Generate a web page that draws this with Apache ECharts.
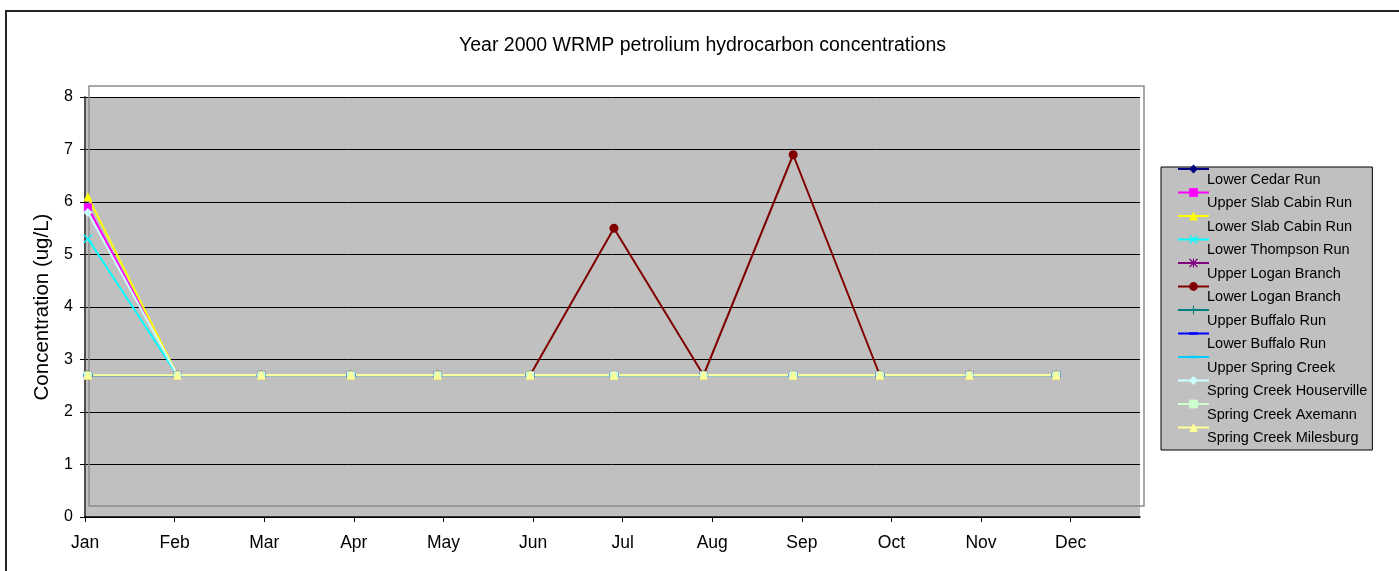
<!DOCTYPE html>
<html>
<head>
<meta charset="utf-8">
<script src="https://cdn.jsdelivr.net/npm/echarts@6/dist/echarts.min.js"></script>
<style>
  html, body { margin: 0; padding: 0; background: #ffffff; }
  #chart { width: 1399px; height: 571px; }
</style>
</head>
<body>
<div id="chart"></div>
<script>
// Month tick labels along the date axis and the concentration ticks
const monthLabels = ['Jan', 'Feb', 'Mar', 'Apr', 'May', 'Jun', 'Jul', 'Aug', 'Sep', 'Oct', 'Nov', 'Dec'];
const concentrationTicks = [0, 1, 2, 3, 4, 5, 6, 7, 8];

// Monthly sampling dates (year 2000)
const sampleDates = ['2000-01-02', '2000-02-02', '2000-03-02', '2000-04-02', '2000-05-02', '2000-06-03',
                     '2000-07-02', '2000-08-02', '2000-09-02', '2000-10-02', '2000-11-02', '2000-12-02'];

// Sites, in legend order
const siteNames = ['Lower Cedar Run', 'Upper Slab Cabin Run', 'Lower Slab Cabin Run', 'Lower Thompson Run',
                   'Upper Logan Branch', 'Lower Logan Branch', 'Upper Buffalo Run', 'Lower Buffalo Run',
                   'Upper Spring Creek', 'Spring Creek Houserville', 'Spring Creek Axemann', 'Spring Creek Milesburg'];

// Petroleum hydrocarbon concentrations (ug/L), one value per sampling date
const lowerCedarRun          = [2.7, 2.7, 2.7, 2.7, 2.7, 2.7, 2.7, 2.7, 2.7, 2.7, 2.7, 2.7];
const upperSlabCabinRun      = [5.9, 2.7, 2.7, 2.7, 2.7, 2.7, 2.7, 2.7, 2.7, 2.7, 2.7, 2.7];
const lowerSlabCabinRun      = [6.1, 2.7, 2.7, 2.7, 2.7, 2.7, 2.7, 2.7, 2.7, 2.7, 2.7, 2.7];
const lowerThompsonRun       = [5.3, 2.7, 2.7, 2.7, 2.7, 2.7, 2.7, 2.7, 2.7, 2.7, 2.7, 2.7];
const upperLoganBranch       = [2.7, 2.7, 2.7, 2.7, 2.7, 2.7, 2.7, 2.7, 2.7, 2.7, 2.7, 2.7];
const lowerLoganBranch       = [2.7, 2.7, 2.7, 2.7, 2.7, 2.7, 5.5, 2.7, 6.9, 2.7, 2.7, 2.7];
const upperBuffaloRun        = [2.7, 2.7, 2.7, 2.7, 2.7, 2.7, 2.7, 2.7, 2.7, 2.7, 2.7, 2.7];
const lowerBuffaloRun        = [2.7, 2.7, 2.7, 2.7, 2.7, 2.7, 2.7, 2.7, 2.7, 2.7, 2.7, 2.7];
const upperSpringCreek       = [2.7, 2.7, 2.7, 2.7, 2.7, 2.7, 2.7, 2.7, 2.7, 2.7, 2.7, 2.7];
const springCreekHouserville = [5.8, 2.7, 2.7, 2.7, 2.7, 2.7, 2.7, 2.7, 2.7, 2.7, 2.7, 2.7];
const springCreekAxemann     = [2.7, 2.7, 2.7, 2.7, 2.7, 2.7, 2.7, 2.7, 2.7, 2.7, 2.7, 2.7];
const springCreekMilesburg   = [2.7, 2.7, 2.7, 2.7, 2.7, 2.7, 2.7, 2.7, 2.7, 2.7, 2.7, 2.7];

const siteValues = [lowerCedarRun, upperSlabCabinRun, lowerSlabCabinRun, lowerThompsonRun,
                    upperLoganBranch, lowerLoganBranch, upperBuffaloRun, lowerBuffaloRun,
                    upperSpringCreek, springCreekHouserville, springCreekAxemann, springCreekMilesburg];

// Marker shapes
const X_MARK = 'path://M0,1L1,0L10,9L9,10Z M9,0L10,1L1,10L0,9Z';
const STAR_MARK = 'path://M0,1L1,0L10,9L9,10Z M9,0L10,1L1,10L0,9Z M4.4,0H5.6V10H4.4Z';
const PLUS_MARK = 'path://M4.4,0H5.6V10H4.4Z M0,4.4H10V5.6H0Z';
// short bar centred in a square 10x10 frame (the two moves keep the frame square)
const DASH_MARK = 'path://M0,0 M10,10 M0,3.6H10V6.4H0Z';

const siteStyles = [
  { color: '#000080', symbol: 'diamond', size: 9 },
  { color: '#FF00FF', symbol: 'rect', size: 8 },
  { color: '#FFFF00', symbol: 'triangle', size: 9 },
  { color: '#00FFFF', symbol: X_MARK, size: 9 },
  { color: '#800080', symbol: STAR_MARK, size: 9 },
  { color: '#800000', symbol: 'circle', size: 9 },
  { color: '#008080', symbol: PLUS_MARK, size: 9 },
  { color: '#0000FF', symbol: DASH_MARK, size: 9 },
  { color: '#00CCFF', symbol: DASH_MARK, size: 9 },
  { color: '#CCFFFF', symbol: 'diamond', size: 9 },
  { color: '#CCFFCC', symbol: 'rect', size: 8 },
  { color: '#FFFF99', symbol: 'triangle', size: 9 }
];

const FONT = "'Liberation Sans', Arial, sans-serif";
const DAY_MS = 86400000;
const YEAR_START = Date.UTC(2000, 0, 1);
const MONTH_STEP = 31;           // axis tick spacing in days
const AXIS_DAYS = 365;

function dayOffset(s) {
  const [y, m, d] = s.split('-').map(Number);
  return (Date.UTC(y, m - 1, d) - YEAR_START) / DAY_MS;
}
const sampleDays = sampleDates.map(dayOffset);
const monthTickDays = monthLabels.map((_, i) => i * MONTH_STEP);

const series = siteNames.map((name, i) => {
  const st = siteStyles[i];
  return {
    name: name,
    type: 'line',
    data: siteValues[i].map((v, j) => [sampleDays[j], v]),
    symbol: st.symbol,
    symbolSize: st.size,
    showAllSymbol: true,
    lineStyle: { color: st.color, width: 2 },
    itemStyle: { color: st.color, borderColor: st.color, borderWidth: 0 },
    emphasis: { disabled: true },
    animation: false,
    z: 3
  };
});

const chart = echarts.init(document.getElementById('chart'), null, { renderer: 'canvas' });
chart.setOption({
  backgroundColor: '#ffffff',
  animation: false,
  title: {
    text: 'Year 2000 WRMP petrolium hydrocarbon concentrations',
    left: 459,
    top: 35.5,
    padding: 0,
    textStyle: { fontFamily: FONT, fontSize: 19.5, fontWeight: 'normal', color: '#000' }
  },
  graphic: [
    // chart frame
    { type: 'rect', z: 0, silent: true,
      shape: { x: 6, y: 11, width: 1500, height: 700 },
      style: { fill: 'none', stroke: '#262626', lineWidth: 2 } },
    // plot area outline
    { type: 'rect', z: 1, silent: true,
      shape: { x: 89, y: 86, width: 1055, height: 420 },
      style: { fill: 'none', stroke: '#8c8c8c', lineWidth: 1.5 } }
  ],
  grid: {
    left: 85, top: 97, width: 1055, height: 420,
    show: true, backgroundColor: '#C0C0C0', borderWidth: 0
  },
  xAxis: {
    type: 'value',
    min: 0,
    max: AXIS_DAYS,
    splitLine: { show: false },
    axisLine: { show: true, onZero: false, lineStyle: { color: '#000', width: 1.5 } },
    axisTick: { show: true, length: 5, customValues: monthTickDays, lineStyle: { color: '#000', width: 1 } },
    axisLabel: {
      customValues: monthTickDays,
      margin: 17,
      fontFamily: FONT, fontSize: 17.5, color: '#000',
      formatter: v => monthLabels[Math.round(v / MONTH_STEP)] || ''
    }
  },
  yAxis: {
    type: 'value',
    min: concentrationTicks[0],
    max: concentrationTicks[concentrationTicks.length - 1],
    interval: 1,
    name: 'Concentration (ug/L)',
    nameLocation: 'middle',
    nameRotate: 90,
    nameGap: 31.5,
    nameTextStyle: { fontFamily: FONT, fontSize: 20.5, color: '#000' },
    axisLine: { show: true, lineStyle: { color: '#505050', width: 2 } },
    axisTick: { show: true, length: 5, lineStyle: { color: '#000', width: 1 } },
    axisLabel: { margin: 12, fontFamily: FONT, fontSize: 16, color: '#000' },
    splitLine: { show: true, lineStyle: { color: '#000', width: 1 } }
  },
  legend: [
    // marker column
    {
      orient: 'vertical', left: 1177, top: 163.5, padding: 0,
      itemWidth: 31, itemHeight: 11, itemGap: 12.5,
      formatter: () => ' ',
      textStyle: { fontSize: 1, lineHeight: 11 },
      selectedMode: false, z: 5
    },
    // label column with the box
    {
      orient: 'vertical', left: 1161, top: 167, padding: [1, 5, 0, 41],
      itemWidth: 0, itemHeight: 0, itemGap: 0, icon: 'none',
      textStyle: { fontFamily: FONT, fontSize: 14.5, lineHeight: 23.5, color: '#000' },
      backgroundColor: '#C0C0C0', borderColor: '#000', borderWidth: 1,
      selectedMode: false, z: 4
    }
  ],
  series: series
});
</script>
</body>
</html>
